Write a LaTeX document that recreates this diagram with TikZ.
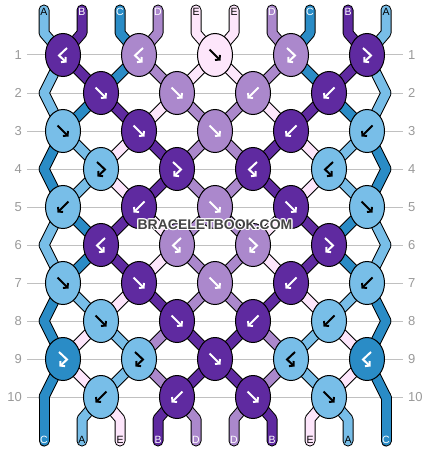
\documentclass[tikz,border=0pt]{standalone}
\usepackage{fontspec}
\setmainfont{Liberation Sans}
\usetikzlibrary{shapes.geometric,arrows.meta}
\definecolor{cA}{HTML}{78BEE8}
\definecolor{cB}{HTML}{5F2AA0}
\definecolor{cC}{HTML}{2A8CC6}
\definecolor{cD}{HTML}{AB88CC}
\definecolor{cE}{HTML}{FDE6FB}
\definecolor{gridgray}{HTML}{C0C0C0}
\definecolor{numgray}{HTML}{999999}
\definecolor{wmgray}{HTML}{444444}
\def\gcA{black}\def\gcB{white}\def\gcC{white}\def\gcD{white}\def\gcE{black}
\newcommand\strandpass[2]{%
  \foreach \r/\lst in {0/{A,B,C,D,E,E,D,C,B,A},1/{A,B,C,D,E,E,D,C,B,A},2/{A,C,B,E,D,D,E,B,C,A},3/{C,A,E,B,D,D,B,E,A,C},4/{C,A,E,B,D,D,B,E,A,C},5/{A,C,B,E,D,D,E,B,C,A},6/{A,C,B,E,D,D,E,B,C,A},7/{C,A,E,B,D,D,B,E,A,C},8/{C,E,A,D,B,B,D,A,E,C},9/{C,E,A,D,B,B,D,A,E,C},10/{C,A,E,B,D,D,B,E,A,C}}{%
    \foreach \c [count=\p] in \lst {%
      \ifnum#2=1 \def\col{c\c}\else\def\col{black}\fi
      \ifnum\r=0
        \draw[line width=#1, draw=\col, line cap=round, line join=round] (t\p) -- (u\p) -- (s1-\p);
      \else\ifnum\r=10
        \draw[line width=#1, draw=\col, line cap=round, line join=round] (s10-\p) -- (v\p) -- (w\p);
      \else
        \pgfmathtruncatemacro\rn{\r+1}
        \draw[line width=#1, draw=\col, line cap=round, line join=round] (s\r-\p) -- (s\rn-\p);
      \fi\fi
    }%
  }%
}
\tikzset{
  knot/.style={ellipse, draw=black, line width=1pt, minimum width=35pt, minimum height=43pt, inner sep=0pt},
  glyph/.style={line width=2pt, -{Straight Barb[length=3pt,width=7pt]}},
  gf/.pic={\draw[glyph] (-5.5,-5.5) -- (5.5,5.5);},
  gb/.pic={\draw[glyph] (5.5,-5.5) -- (-5.5,5.5);},
  gfb/.pic={\draw[glyph] (-4,-7) -- (4,0.5) -- (-3.5,7.5);},
  gbf/.pic={\draw[glyph] (4,-7) -- (-4,0.5) -- (3.5,7.5);},
  rownum/.style={font=\fontsize{13}{13}\selectfont, text=numgray, inner sep=0pt},
  letter/.style={font=\fontsize{10.5}{10.5}\selectfont, inner sep=0pt},
  wm/.style={font=\fontsize{14}{14}\selectfont\bfseries, inner sep=0pt}
}
\begin{document}
\begin{tikzpicture}[x=1pt,y=-1pt]
\useasboundingbox (0,0) rectangle (430,452);
% grid lines and row numbers
\foreach \r in {1,...,10}{
  \pgfmathsetmacro\yy{55+38*(\r-1)}
  \coordinate (gl\r) at (27,\yy);
  \coordinate (gr\r) at (403,\yy);
  \draw[gridgray, line width=1pt] (gl\r) -- (gr\r);
  \node[rownum, anchor=east] (ln\r) at (22,\yy) {\r};
  \node[rownum, anchor=west] (rn\r) at (408,\yy) {\r};
}
% strand positions
\foreach \r in {1,...,10}{
  \foreach \p in {1,...,10}{
    \pgfmathsetmacro\yy{55+38*(\r-1)}
    \pgfmathsetmacro\xx{63+76*floor((\p-1)/2)}
    \ifodd\r\relax\else
      \pgfmathsetmacro\xx{101+76*(floor(\p/2)-1)}
      \ifnum\p=1 \def\xx{44}\fi
      \ifnum\p=10 \def\xx{386}\fi
    \fi
    \coordinate (s\r-\p) at (\xx,\yy);
  }
}
\foreach \p in {1,...,10}{
  \pgfmathsetmacro\xx{44+38*(\p-1)}
  \coordinate (t\p) at (\xx,10);
  \coordinate (u\p) at (\xx,33);
  \coordinate (v\p) at (\xx,419);
  \coordinate (w\p) at (\xx,441);
}
% strands: outline then fill
\strandpass{11pt}{0}
\strandpass{9pt}{1}
% end letters
\foreach \c [count=\p] in {A,B,C,D,E,E,D,C,B,A}{
  \node[letter, text=\csname gc\c\endcsname] (top\p) at (t\p) [yshift=-2pt] {\c};
}
\foreach \c [count=\p] in {C,A,E,B,D,D,B,E,A,C}{
  \node[letter, text=\csname gc\c\endcsname] (bot\p) at (w\p) [yshift=1pt] {\c};
}
% knots
\foreach \r/\kl in {1/{B/bf,D/bf,E/f,D/fb,B/fb},2/{B/f,D/f,D/b,B/b},3/{A/f,B/f,D/f,B/b,A/b},4/{A/fb,B/fb,B/bf,A/bf},5/{A/b,B/b,D/f,B/f,A/f},6/{B/bf,D/bf,D/fb,B/fb},7/{A/f,B/f,D/f,B/b,A/b},8/{A/f,B/f,B/b,A/b},9/{C/fb,A/fb,B/f,A/bf,C/bf},10/{A/b,B/b,B/f,A/f}}{
  \foreach \c/\t [count=\i] in \kl {
    \pgfmathsetmacro\yy{55+38*(\r-1)}
    \ifodd\r\relax
      \pgfmathsetmacro\xx{63+76*(\i-1)}
    \else
      \pgfmathsetmacro\xx{101+76*(\i-1)}
    \fi
    \node[knot, fill=c\c] (k\r-\i) at (\xx,\yy) {};
    \pic[color=\csname gc\c\endcsname] at (k\r-\i.center) {g\t};
  }
}
% watermark with white halo
\foreach \dx/\dy [count=\i] in {1.2/0,-1.2/0,0/1.2,0/-1.2,0.9/0.9,-0.9/0.9,0.9/-0.9,-0.9/-0.9}{
  \node[wm, text=white] (wmh\i) at (215+\dx,224.5+\dy) {BRACELETBOOK.COM};
}
\node[wm, text=wmgray] (wm) at (215,224.5) {BRACELETBOOK.COM};
\end{tikzpicture}
\end{document}
